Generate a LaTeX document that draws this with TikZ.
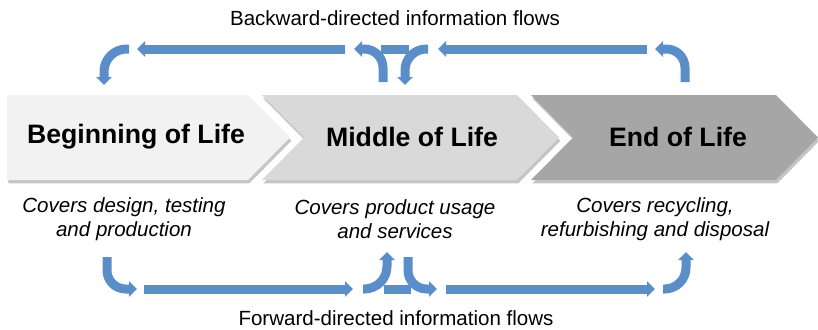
\documentclass[tikz,border=0pt]{standalone}
\usepackage{fontspec}
\setmainfont{Liberation Sans}
\usepackage{tikz}
\usetikzlibrary{arrows.meta,shadows}
\definecolor{flowblue}{RGB}{91,141,200}
\definecolor{bolgray}{RGB}{242,242,242}
\definecolor{molgray}{RGB}{217,217,217}
\definecolor{eolgray}{RGB}{166,166,166}

\begin{document}
\begin{tikzpicture}[line cap=round,line join=round,>={Triangle[width=11.5pt,length=6pt]},x=0.75pt,y=-0.75pt,
    flow/.style={draw=flowblue,line width=6.75pt,line cap=butt,line join=miter},
    chev/.style={drop shadow={shadow xshift=1pt,shadow yshift=-2.5pt,opacity=0.5,fill=black!45}},
    stage/.style={font=\fontsize{20}{24}\selectfont\bfseries},
    note/.style={font=\fontsize{15.4}{18}\selectfont\itshape,align=center},
    flowlabel/.style={font=\fontsize{15.4}{18}\selectfont}]
        \useasboundingbox (0,0) rectangle (818,329);
        % the three life cycle phases
        \fill [bolgray,chev] (7,95) -- (248,95) -- (290,137.5) -- (248,180) -- (7,180) -- cycle;
        \fill [molgray,chev] (262,95) -- (517,95) -- (559,137.5) -- (517,180) -- (262,180) -- (304,137.5) -- cycle;
        \fill [eolgray,chev] (531,95) -- (776,95) -- (818,137.5) -- (776,180) -- (531,180) -- (573,137.5) -- cycle;
        \draw (136,137) node[stage] (bol) {Beginning of Life};
        \draw (412,137) node[stage] (mol) {Middle of Life};
        \draw (678,137) node[stage] (eol) {End of Life};
        \draw (124,219) node[note] (bolnote) {Covers design, testing\\and production};
        \draw (395,219) node[note] (molnote) {Covers product usage\\and services};
        \draw (655,219) node[note] (eolnote) {Covers recycling,\\refurbishing and disposal};
        % backward flows
        \draw [flow,->,rounded corners=17pt] (129,49) -| (104,85);
        \draw [flow,->] (345,49) -- (137,49);
        \draw [flow,->,rounded corners=14pt] (383,82) |- (354,49);
        \draw [flow,->,rounded corners=16pt] (428,49) -| (405,85);
        \draw [flow] (381,49) -- (409,49);
        \draw [flow,->] (647,49) -- (438,49);
        \draw [flow,->,rounded corners=14pt] (685,82) |- (655,49);
        % forward flows
        \draw [flow,->,rounded corners=14pt] (107,257) |- (137,289);
        \draw [flow,->] (144,289) -- (353,289);
        \draw [flow,->,rounded corners=17pt] (363,289) -| (387,252);
        \draw [flow,->,rounded corners=14pt] (408,257) |- (437,289);
        \draw [flow] (384,289) -- (411,289);
        \draw [flow,->] (446,289) -- (655,289);
        \draw [flow,->,rounded corners=16pt] (663,289) -| (686,252);
        \draw (395,18) node[flowlabel] (back) {Backward-directed information flows};
        \draw (396,318) node[flowlabel] (fwd) {Forward-directed information flows};
    \end{tikzpicture}
\end{document}
